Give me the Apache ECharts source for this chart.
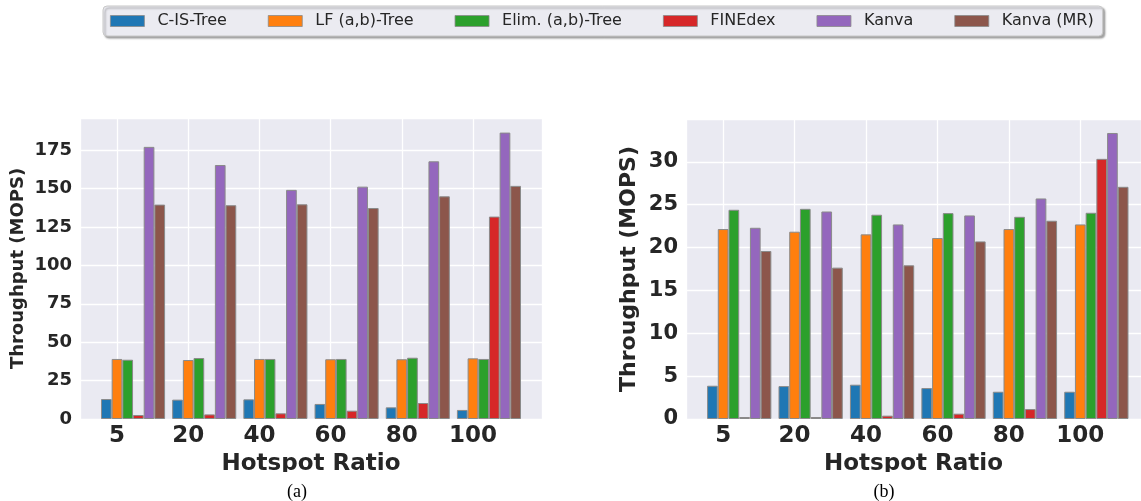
<!DOCTYPE html>
<html>
<head>
<meta charset="utf-8">
<script src="https://cdn.jsdelivr.net/npm/echarts@6/dist/echarts.min.js"></script>
<style>
html,body{margin:0;padding:0;background:#fff;}
#c{width:1141px;height:501px;}
</style>
</head>
<body>
<div id="c"></div>
<script>
const xLabels = ['5', '20', '40', '60', '80', '100'];
const seriesNames = ['C-IS-Tree', 'LF (a,b)-Tree', 'Elim. (a,b)-Tree', 'FINEdex', 'Kanva', 'Kanva (MR)'];
const colors = ['#1f77b4', '#ff7f0e', '#2ca02c', '#d62728', '#9467bd', '#8c564b'];

// Chart (a)
const a_cis   = [13.0, 12.6, 12.8, 9.8, 7.6, 5.9];
const a_lf    = [39.1, 38.4, 39.1, 38.9, 38.9, 39.5];
const a_elim  = [38.6, 39.7, 39.1, 39.1, 39.9, 39.1];
const a_fine  = [2.6, 3.0, 3.7, 5.4, 10.4, 131.8];
const a_kanva = [177.2, 165.4, 149.2, 151.3, 167.8, 186.5];
const a_mr    = [139.6, 139.2, 139.8, 137.4, 145.0, 151.8];

// Chart (b)
const b_cis   = [3.88, 3.84, 4.0, 3.61, 3.18, 3.18];
const b_lf    = [22.16, 21.85, 21.54, 21.11, 22.16, 22.7];
const b_elim  = [24.41, 24.52, 23.83, 24.02, 23.59, 24.06];
const b_fine  = [0.23, 0.23, 0.39, 0.62, 1.16, 30.35];
const b_kanva = [22.31, 24.21, 22.7, 23.75, 25.73, 33.37];
const b_mr    = [19.6, 17.66, 17.93, 20.72, 23.13, 27.09];

const yTicksA = [0, 25, 50, 75, 100, 125, 150, 175];
const yTicksB = [0, 5, 10, 15, 20, 25, 30];

const dataA = [a_cis, a_lf, a_elim, a_fine, a_kanva, a_mr];
const dataB = [b_cis, b_lf, b_elim, b_fine, b_kanva, b_mr];

const BAR_W = 0.15;
const TXT = '#262626';
const FONT = 'DejaVu Sans';

function xAxisCfg(gridIndex, max, fs, nameGap) {
  return {
    type: 'value', gridIndex: gridIndex, min: -0.52, max: max,
    minInterval: 1, maxInterval: 1,
    name: 'Hotspot Ratio', nameLocation: 'middle', nameGap: nameGap,
    nameTextStyle: { fontFamily: FONT, fontWeight: 'bold', fontSize: 23, color: TXT },
    axisLine: { show: false }, axisTick: { show: false },
    axisLabel: {
      margin: 6, fontFamily: FONT, fontWeight: 'bold', fontSize: fs, color: TXT,
      showMinLabel: false, showMaxLabel: false,
      formatter: function (v) {
        const r = Math.round(v);
        return (Math.abs(v - r) < 1e-6 && r >= 0 && r < xLabels.length) ? xLabels[r] : '';
      }
    },
    splitLine: { show: true, lineStyle: { color: '#ffffff', width: 1.3 } }
  };
}

function yAxisCfg(gridIndex, max, interval, ticks, fs, nfs, nameGap) {
  return {
    type: 'value', gridIndex: gridIndex, min: 0, max: max, interval: interval,
    name: 'Throughput (MOPS)', nameLocation: 'middle', nameGap: nameGap,
    nameTextStyle: { fontFamily: FONT, fontWeight: 'bold', fontSize: nfs, color: TXT },
    axisLine: { show: false }, axisTick: { show: false },
    axisLabel: {
      margin: 8, fontFamily: FONT, fontWeight: 'bold', fontSize: fs, color: TXT,
      showMaxLabel: false,
      formatter: function (v) { return ticks.indexOf(v) >= 0 ? String(v) : ''; }
    },
    splitLine: { show: true, lineStyle: { color: '#ffffff', width: 1.3 } }
  };
}

function makeSeries(data, axisIndex, barW) {
  return data.map(function (vals, k) {
    return {
      name: seriesNames[k], type: 'bar',
      xAxisIndex: axisIndex, yAxisIndex: axisIndex,
      barWidth: barW, barGap: '-100%', barCategoryGap: '0%',
      itemStyle: { color: colors[k], borderColor: '#8a8a8a', borderWidth: 1 },
      data: vals.map(function (v, i) { return [i + (k - 1) * BAR_W, v]; })
    };
  });
}

const chart = echarts.init(document.getElementById('c'));
chart.setOption({
  animation: false,
  backgroundColor: '#ffffff',
  color: colors,
  legend: {
    data: seriesNames,
    left: 103, top: 6,
    padding: [7, 9, 7, 7],
    itemWidth: 34, itemHeight: 11, itemGap: 41,
    icon: 'rect',
    itemStyle: { borderColor: '#8a8a8a', borderWidth: 0.8 },
    textStyle: { fontFamily: FONT, fontSize: 16, color: TXT, padding: [0, 0, 0, 8] },
    backgroundColor: '#ebebf1',
    borderColor: '#c8c8c8', borderWidth: 1, borderRadius: 4,
    shadowColor: 'rgba(0,0,0,0.35)', shadowBlur: 2, shadowOffsetX: 2, shadowOffsetY: 2
  },
  grid: [
    { left: 80, right: 599, top: 118, bottom: 82, show: true, backgroundColor: '#eaeaf2', borderWidth: 0 },
    { left: 686, right: 0, top: 119, bottom: 82, show: true, backgroundColor: '#eaeaf2', borderWidth: 0 }
  ],
  xAxis: [
    xAxisCfg(0, 5.97, 23, 32),
    xAxisCfg(1, 5.85, 23, 32)
  ],
  yAxis: [
    yAxisCfg(0, 196, 25, yTicksA, 18, 18, 53),
    yAxisCfg(1, 35, 5, yTicksB, 21, 22, 46)
  ],
  graphic: [
    { type: 'rect', left: 0, top: 472, z: 100, shape: { width: 1141, height: 29 }, style: { fill: '#ffffff' } },
    { type: 'text', x: 297, y: 492, z: 101, style: { text: '(a)', fontFamily: 'Liberation Serif', fontSize: 18, fill: '#000', align: 'center', verticalAlign: 'middle' } },
    { type: 'text', x: 884, y: 492, z: 101, style: { text: '(b)', fontFamily: 'Liberation Serif', fontSize: 18, fill: '#000', align: 'center', verticalAlign: 'middle' } }
  ],
  series: makeSeries(dataA, 0, 10.7).concat(makeSeries(dataB, 1, 10.7))
});
</script>
</body>
</html>
